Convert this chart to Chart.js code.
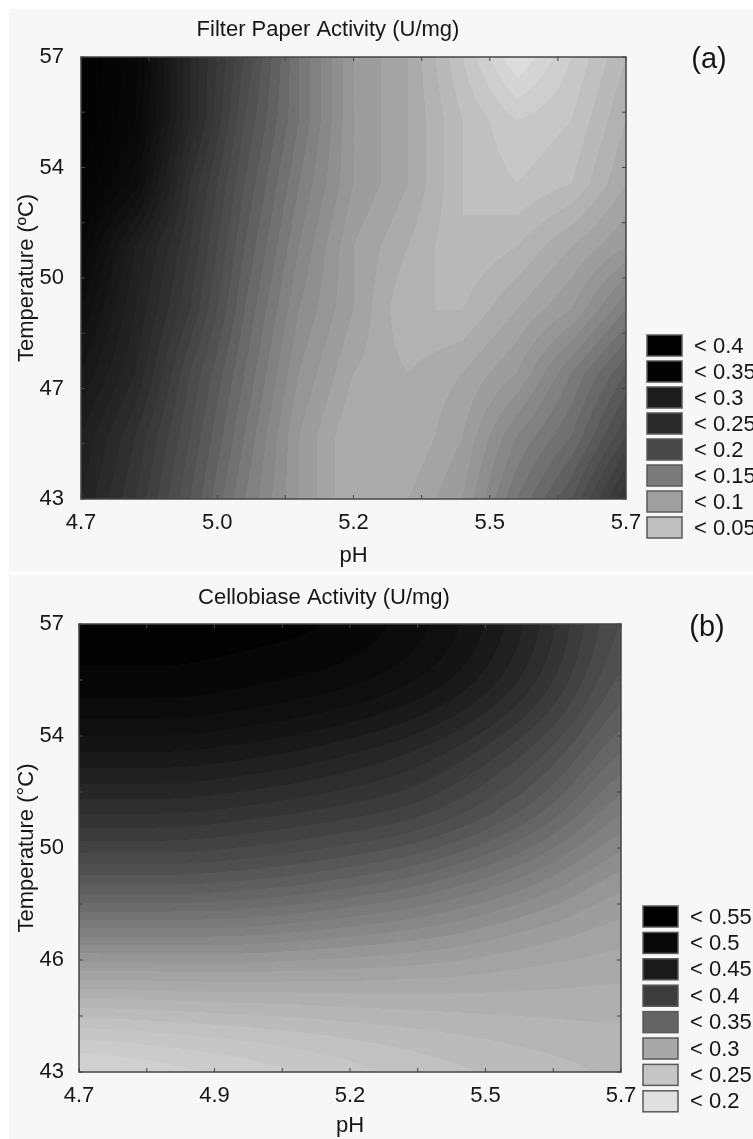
<!DOCTYPE html>
<html>
<head>
<meta charset="utf-8">
<script src="https://cdn.jsdelivr.net/npm/chart.js@4.4.1/dist/chart.umd.min.js"></script>
<style>
  html, body { margin: 0; padding: 0; background: #fff; }
  body { width: 753px; height: 1139px; position: relative; overflow: hidden; }
  .bg { position: absolute; left: 9px; width: 744px; background: #f7f7f7; }
  .panel { position: absolute; left: 0; width: 753px; }
  canvas { display: block; }
</style>
</head>
<body>
<div class="bg" style="top:9px;height:563px"></div>
<div class="bg" style="top:575px;height:564px"></div>
<div class="panel" style="top:0;height:573px"><canvas id="chartA" width="753" height="573"></canvas></div>
<div class="panel" style="top:573px;height:566px"><canvas id="chartB" width="753" height="566"></canvas></div>
<script>
// grid the surfaces were read on: pH columns, temperature rows (top to bottom)
var phGrid = [4.7, 4.8, 4.9, 5.0, 5.1, 5.2, 5.3, 5.4, 5.5, 5.6, 5.7];
var tempGrid = [57, 55, 53, 51, 49, 47, 45, 43];

// Filter paper activity (U/mg), one row per temperature
var fpaValues = [
  [0.39, 0.365, 0.28, 0.22, 0.16, 0.11, 0.09, 0.05, 0.01, 0.04, 0.07],
  [0.39, 0.36, 0.28, 0.21, 0.16, 0.11, 0.09, 0.06, 0.04, 0.05, 0.08],
  [0.38, 0.345, 0.26, 0.20, 0.15, 0.11, 0.09, 0.06, 0.05, 0.06, 0.09],
  [0.36, 0.30, 0.25, 0.19, 0.14, 0.10, 0.08, 0.06, 0.07, 0.09, 0.11],
  [0.34, 0.29, 0.24, 0.18, 0.13, 0.10, 0.07, 0.07, 0.09, 0.11, 0.15],
  [0.32, 0.28, 0.22, 0.17, 0.12, 0.09, 0.08, 0.09, 0.11, 0.15, 0.19],
  [0.30, 0.26, 0.21, 0.16, 0.11, 0.08, 0.08, 0.10, 0.14, 0.17, 0.22],
  [0.29, 0.25, 0.20, 0.15, 0.11, 0.08, 0.09, 0.11, 0.16, 0.20, 0.26]
];

// Cellobiase activity (U/mg)
var cbValues = [
  [0.545, 0.545, 0.545, 0.545, 0.545, 0.54, 0.53, 0.515, 0.49, 0.455, 0.415],
  [0.54, 0.54, 0.54, 0.535, 0.53, 0.525, 0.515, 0.50, 0.475, 0.445, 0.40],
  [0.50, 0.50, 0.50, 0.495, 0.49, 0.48, 0.47, 0.455, 0.435, 0.41, 0.375],
  [0.46, 0.46, 0.46, 0.455, 0.45, 0.445, 0.44, 0.425, 0.405, 0.38, 0.345],
  [0.41, 0.41, 0.41, 0.405, 0.40, 0.39, 0.38, 0.365, 0.35, 0.33, 0.31],
  [0.33, 0.33, 0.33, 0.33, 0.325, 0.32, 0.315, 0.31, 0.30, 0.295, 0.29],
  [0.257, 0.258, 0.260, 0.262, 0.263, 0.267, 0.268, 0.270, 0.272, 0.273, 0.273],
  [0.198, 0.204, 0.210, 0.216, 0.224, 0.230, 0.238, 0.244, 0.250, 0.255, 0.260]
];

var fpaLevels = [0.4, 0.35, 0.3, 0.25, 0.2, 0.15, 0.1, 0.05];
var cbLevels = [0.55, 0.5, 0.45, 0.4, 0.35, 0.3, 0.25, 0.2];

var xTickValues = [4.7, 4.95, 5.2, 5.45, 5.7];
var xLabelsA = ['4.7', '5.0', '5.2', '5.5', '5.7'];
var xLabelsB = ['4.7', '4.9', '5.2', '5.5', '5.7'];
var yTickValues = [43, 46.5, 50, 53.5, 57];
var yLabelsA = ['43', '47', '50', '54', '57'];
var yLabelsB = ['43', '46', '50', '54', '57'];

// grey ramps (value -> grey level) and legend swatches
var rampA = { v: [0, 0.05, 0.1, 0.15, 0.2, 0.25, 0.3, 0.35, 0.4], g: [230, 195, 160, 125, 85, 55, 30, 10, 0] };
var rampB = { v: [0.15, 0.2, 0.25, 0.3, 0.35, 0.4, 0.45, 0.5, 0.55], g: [235, 215, 190, 160, 125, 90, 55, 22, 0] };
var swatchA = ['#000000', '#030303', '#1c1c1c', '#2a2a2a', '#474747', '#7b7b7b', '#9f9f9f', '#c0c0c0'];
var swatchB = ['#000000', '#080808', '#1a1a1a', '#3c3c3c', '#646464', '#a8a8a8', '#c6c6c6', '#e0e0e0'];

Chart.defaults.font.family = "'Liberation Sans', Arial, sans-serif";
Chart.defaults.color = '#161616';

function locate(arr, v) {
  var n = arr.length, dir = arr[0] < arr[n - 1] ? 1 : -1;
  for (var i = 0; i < n - 2; i++) {
    if ((v - arr[i + 1]) * dir < 0) break;
  }
  var f = (v - arr[i]) / (arr[i + 1] - arr[i]);
  return [i, Math.max(0, Math.min(1, f))];
}

function greyFor(ramp, v) {
  var n = ramp.v.length;
  if (v <= ramp.v[0]) return ramp.g[0];
  if (v >= ramp.v[n - 1]) return ramp.g[n - 1];
  var p = locate(ramp.v, v);
  return ramp.g[p[0]] + (ramp.g[p[0] + 1] - ramp.g[p[0]]) * p[1];
}

// interpolation weights over 4 neighbours (i-1 .. i+2)
function weights(mode, t) {
  if (mode === 'linear') return [0, 1 - t, t, 0];
  var t2 = t * t, t3 = t2 * t, u = 1 - t;
  return [u * u * u / 6, (3 * t3 - 6 * t2 + 4) / 6, (-3 * t3 + 3 * t2 + 3 * t + 1) / 6, t3 / 6];
}

function sample(values, mode, cx, cy) {
  var rows = values.length, cols = values[0].length;
  var wx = weights(mode, cx[1]), wy = weights(mode, cy[1]);
  var sum = 0;
  for (var j = 0; j < 4; j++) {
    if (!wy[j]) continue;
    var r = Math.max(0, Math.min(rows - 1, cy[0] - 1 + j));
    var row = values[r], acc = 0;
    for (var i = 0; i < 4; i++) {
      if (!wx[i]) continue;
      var c = Math.max(0, Math.min(cols - 1, cx[0] - 1 + i));
      acc += wx[i] * row[c];
    }
    sum += wy[j] * acc;
  }
  return sum;
}

function contourPlugin(values, ramp, mode, step, deco) {
  return {
    id: 'contour',
    beforeDatasetsDraw: function(chart) {
      var ctx = chart.ctx, a = chart.chartArea;
      var xs = chart.scales.x, ys = chart.scales.y;
      var x0 = Math.round(a.left), y0 = Math.round(a.top);
      var w = Math.round(a.right) - x0, h = Math.round(a.bottom) - y0;
      var img = ctx.createImageData(w, h);
      var cols = [];
      for (var px = 0; px < w; px++) cols.push(locate(phGrid, xs.getValueForPixel(x0 + px + 0.5)));
      for (var py = 0; py < h; py++) {
        var cy = locate(tempGrid, ys.getValueForPixel(y0 + py + 0.5));
        for (px = 0; px < w; px++) {
          var v = sample(values, mode, cols[px], cy);
          v = (Math.floor(v / step) + 0.5) * step;
          var g = Math.round(greyFor(ramp, v));
          var k = (py * w + px) * 4;
          img.data[k] = g; img.data[k + 1] = g; img.data[k + 2] = g; img.data[k + 3] = 255;
        }
      }
      ctx.putImageData(img, x0, y0);
    },
    afterDraw: function(chart) {
      var ctx = chart.ctx, a = chart.chartArea;
      var xs = chart.scales.x, ys = chart.scales.y;
      ctx.save();
      // frame
      ctx.strokeStyle = '#464646';
      ctx.lineWidth = 1.5;
      ctx.strokeRect(a.left, a.top, a.right - a.left, a.bottom - a.top);
      // inward tick marks, majors and halves
      ctx.lineWidth = 1;
      ctx.beginPath();
      xTickValues.forEach(function(v, i) {
        var list = [v];
        if (i < xTickValues.length - 1) list.push((v + xTickValues[i + 1]) / 2);
        list.forEach(function(t) {
          var px = xs.getPixelForValue(t);
          ctx.moveTo(px, a.top); ctx.lineTo(px, a.top + 4);
          ctx.moveTo(px, a.bottom); ctx.lineTo(px, a.bottom - 4);
        });
      });
      yTickValues.forEach(function(v, i) {
        var list = [v];
        if (i < yTickValues.length - 1) list.push((v + yTickValues[i + 1]) / 2);
        list.forEach(function(t) {
          var py = ys.getPixelForValue(t);
          ctx.moveTo(a.left, py); ctx.lineTo(a.left + 4, py);
          ctx.moveTo(a.right, py); ctx.lineTo(a.right - 4, py);
        });
      });
      ctx.stroke();

      // title and panel tag
      ctx.fillStyle = '#161616';
      ctx.textBaseline = 'middle';
      ctx.textAlign = 'center';
      ctx.font = "22px 'Liberation Sans', Arial, sans-serif";
      ctx.fillText(deco.title, deco.titleX, deco.titleY);
      ctx.font = "29px 'Liberation Sans', Arial, sans-serif";
      ctx.fillText(deco.tag, deco.tagX, deco.tagY);

      // legend
      ctx.textAlign = 'left';
      ctx.font = "22px 'Liberation Sans', Arial, sans-serif";
      deco.levels.forEach(function(lv, i) {
        var y = deco.legY + i * deco.legStep;
        ctx.fillStyle = deco.swatch[i];
        ctx.fillRect(deco.legX, y, 35, 21);
        ctx.strokeStyle = '#5a5a5a';
        ctx.lineWidth = 1.5;
        ctx.strokeRect(deco.legX, y, 35, 21);
        ctx.fillStyle = '#161616';
        ctx.fillText('< ' + lv, deco.legX + 47, y + 11.5);
      });
      ctx.restore();
    }
  };
}

function makeChart(id, values, ramp, mode, xLabels, yLabels, yTitle, box, deco) {
  var ctx = document.getElementById(id);
  return new Chart(ctx, {
    type: 'scatter',
    data: { datasets: [{ data: [], pointRadius: 0 }] },
    options: {
      responsive: false,
      animation: false,
      events: [],
      layout: { padding: { top: box.top, right: box.right, bottom: 0, left: 0 } },
      plugins: { legend: { display: false }, tooltip: { enabled: false } },
      scales: {
        x: {
          type: 'linear',
          min: 4.7,
          max: 5.7,
          grid: { display: false },
          border: { display: false },
          afterBuildTicks: function(s) { s.ticks = xTickValues.map(function(v) { return { value: v }; }); },
          afterFit: function(s) { s.height = box.xHeight; },
          ticks: {
            autoSkip: false,
            maxRotation: 0,
            padding: 3,
            font: { size: 22 },
            callback: function(v, i) { return xLabels[i]; }
          },
          title: { display: true, text: 'pH', font: { size: 22, lineHeight: 1.2 }, padding: { top: 0, bottom: box.xTitlePad } }
        },
        y: {
          type: 'linear',
          min: 43,
          max: 57,
          grid: { display: false },
          border: { display: false },
          afterBuildTicks: function(s) { s.ticks = yTickValues.map(function(v) { return { value: v }; }); },
          afterFit: function(s) { s.width = box.yWidth; },
          ticks: {
            autoSkip: false,
            padding: box.yPad,
            font: { size: 22 },
            callback: function(v, i) { return yLabels[i]; }
          },
          title: { display: true, text: yTitle, font: { size: 22, lineHeight: 1.2 }, padding: { top: 14, bottom: 0 } }
        }
      }
    },
    plugins: [contourPlugin(values, ramp, mode, 0.01, deco)]
  });
}

makeChart('chartA', fpaValues, rampA, 'linear', xLabelsA, yLabelsA, 'Temperature (\u00baC)',
  { top: 57, right: 127, xHeight: 74, yWidth: 81, yPad: 9, xTitlePad: 4 },
  { title: 'Filter Paper Activity (U/mg)', titleX: 328, titleY: 30, tag: '(a)', tagX: 709, tagY: 60,
    levels: fpaLevels, swatch: swatchA, legX: 647, legY: 335, legStep: 26 });

makeChart('chartB', cbValues, rampB, 'bspline', xLabelsB, yLabelsB, 'Temperature (\u00b0C)',
  { top: 51, right: 132, xHeight: 67, yWidth: 79, yPad: 7, xTitlePad: 0 },
  { title: 'Cellobiase Activity (U/mg)', titleX: 324, titleY: 25, tag: '(b)', tagX: 707, tagY: 55,
    levels: cbLevels, swatch: swatchB, legX: 643, legY: 333, legStep: 26.4 });
</script>
</body>
</html>
